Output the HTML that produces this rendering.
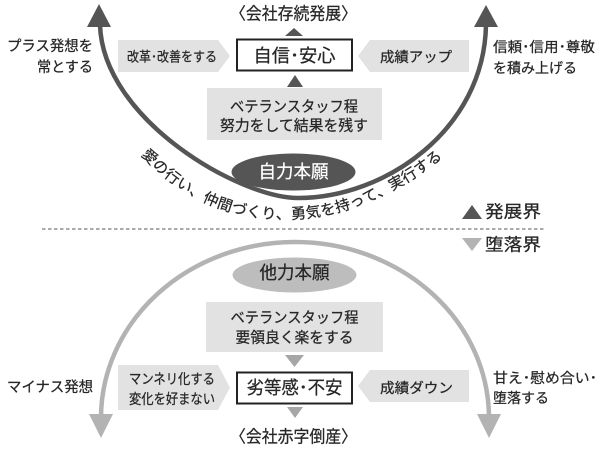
<!DOCTYPE html>
<html><head><meta charset="utf-8">
<style>
html,body{margin:0;padding:0;background:#fff;}
svg{display:block;}
text{font-family:"Liberation Sans","Noto Sans CJK JP",sans-serif;fill:#262626;stroke:#262626;stroke-width:0.25;}
</style></head>
<body>
<svg width="600" height="450" viewBox="0 0 600 450" xmlns="http://www.w3.org/2000/svg">
<rect width="600" height="450" fill="#fff"/>

<!-- upper U arrow -->
<path d="M100 25 C103 120 240 198 298 198 C385 198 484 130 486 25" stroke="#555" stroke-width="4.5" fill="none"/>
<polygon points="99,4 87,27 111,27" fill="#555"/>
<polygon points="486,5 474,27 498,27" fill="#555"/>

<!-- lower arch -->
<path d="M101 418 A194 176 0 0 1 489 418" stroke="#b3b3b3" stroke-width="4.5" fill="none"/>
<polygon points="101,438 89,414 113,414" fill="#b3b3b3"/>
<polygon points="489,438 477,414 501,414" fill="#b3b3b3"/>

<!-- top title -->
<text x="293.5" y="14" text-anchor="middle" dominant-baseline="central" font-size="17" textLength="127" lengthAdjust="spacingAndGlyphs">〈会社存続発展〉</text>
<polygon points="294,28 285,36 303,36" fill="#555"/>

<!-- upper pentagons -->
<polygon points="118,40 218,40 230,56 218,72 118,72" fill="#e2e2e2"/>
<text x="172" y="57" text-anchor="middle" dominant-baseline="central" font-size="13.5" textLength="90" lengthAdjust="spacingAndGlyphs">改革･改善をする</text>
<polygon points="358,56 370,40 469,40 469,72 370,72" fill="#e2e2e2"/>
<text x="416" y="57" text-anchor="middle" dominant-baseline="central" font-size="14" textLength="72" lengthAdjust="spacingAndGlyphs">成績アップ</text>

<!-- upper box -->
<rect x="237" y="39.5" width="115" height="31" fill="#fff" stroke="#222" stroke-width="2"/>
<text x="294.5" y="56" text-anchor="middle" dominant-baseline="central" font-size="18" textLength="82" lengthAdjust="spacingAndGlyphs">自信･安心</text>

<polygon points="295,75 287,87 303,87" fill="#555"/>
<rect x="207" y="88" width="175" height="52" fill="#e2e2e2"/>
<text x="294" y="107" text-anchor="middle" dominant-baseline="central" font-size="15" textLength="128" lengthAdjust="spacingAndGlyphs">ベテランスタッフ程</text>
<text x="294" y="126" text-anchor="middle" dominant-baseline="central" font-size="15" textLength="148" lengthAdjust="spacingAndGlyphs">努力をして結果を残す</text>

<ellipse cx="293.5" cy="172" rx="62" ry="18.5" fill="#555"/>
<text x="293.5" y="172" text-anchor="middle" dominant-baseline="central" font-size="18" textLength="70" lengthAdjust="spacingAndGlyphs" style="fill:#fff;stroke:#fff">自力本願</text>

<!-- side texts upper -->
<text x="93" y="47" text-anchor="end" dominant-baseline="central" font-size="14.5" textLength="86" lengthAdjust="spacingAndGlyphs">プラス発想を</text>
<text x="93" y="68" text-anchor="end" dominant-baseline="central" font-size="14.5" textLength="56" lengthAdjust="spacingAndGlyphs">常とする</text>
<text x="493" y="47" dominant-baseline="central" font-size="14" textLength="102" lengthAdjust="spacingAndGlyphs">信頼･信用･尊敬</text>
<text x="493" y="68" dominant-baseline="central" font-size="14" textLength="84" lengthAdjust="spacingAndGlyphs">を積み上げる</text>

<!-- curved text -->
<path id="tp" d="M143 150 C190 200 240 216 292 214 C350 212 400 185 442 152" fill="none"/>
<text font-size="15" dominant-baseline="central"><textPath href="#tp" startOffset="2" textLength="328" lengthAdjust="spacingAndGlyphs">愛の行い、仲間づくり、勇気を持って、実行する</textPath></text>

<!-- divider -->
<line x1="42" y1="229" x2="546" y2="229" stroke="#555" stroke-width="1" stroke-dasharray="3.5,2.5"/>
<polygon points="472,205 462,219 482,219" fill="#555"/>
<text x="485" y="212" dominant-baseline="central" font-size="17" textLength="56" lengthAdjust="spacingAndGlyphs">発展界</text>
<polygon points="462,238 482,238 472,251" fill="#b3b3b3"/>
<text x="485" y="245" dominant-baseline="central" font-size="17" textLength="56" lengthAdjust="spacingAndGlyphs">堕落界</text>

<!-- lower section -->
<ellipse cx="294.5" cy="275" rx="62" ry="17.5" fill="#bdbdbd"/>
<text x="294.5" y="273" text-anchor="middle" dominant-baseline="central" font-size="18" textLength="70" lengthAdjust="spacingAndGlyphs">他力本願</text>

<rect x="206" y="302" width="177" height="50" fill="#e2e2e2"/>
<text x="294.5" y="318" text-anchor="middle" dominant-baseline="central" font-size="15" textLength="128" lengthAdjust="spacingAndGlyphs">ベテランスタッフ程</text>
<text x="294.5" y="338" text-anchor="middle" dominant-baseline="central" font-size="15" textLength="118" lengthAdjust="spacingAndGlyphs">要領良く楽をする</text>

<polygon points="285,355 304,355 294.5,367" fill="#a6a6a6"/>

<polygon points="118,365 218,365 230,387.5 218,410 118,410" fill="#e2e2e2"/>
<text x="172" y="379" text-anchor="middle" dominant-baseline="central" font-size="14" textLength="86" lengthAdjust="spacingAndGlyphs">マンネリ化する</text>
<text x="172" y="399" text-anchor="middle" dominant-baseline="central" font-size="14" textLength="86" lengthAdjust="spacingAndGlyphs">変化を好まない</text>

<polygon points="358,386 370,370 469,370 469,402 370,402" fill="#e2e2e2"/>
<text x="416.5" y="388" text-anchor="middle" dominant-baseline="central" font-size="14" textLength="73" lengthAdjust="spacingAndGlyphs">成績ダウン</text>

<rect x="237" y="372.5" width="115" height="31" fill="#fff" stroke="#222" stroke-width="2"/>
<text x="294.5" y="388" text-anchor="middle" dominant-baseline="central" font-size="18" textLength="96" lengthAdjust="spacingAndGlyphs">劣等感･不安</text>

<polygon points="287,407 303,407 295,418" fill="#a6a6a6"/>
<text x="293.5" y="437" text-anchor="middle" dominant-baseline="central" font-size="17" textLength="127" lengthAdjust="spacingAndGlyphs">〈会社赤字倒産〉</text>

<text x="93" y="388" text-anchor="end" dominant-baseline="central" font-size="14.5" textLength="86" lengthAdjust="spacingAndGlyphs">マイナス発想</text>
<text x="493" y="378" dominant-baseline="central" font-size="14" textLength="104" lengthAdjust="spacingAndGlyphs">甘え･慰め合い･</text>
<text x="493" y="398" dominant-baseline="central" font-size="14" textLength="56" lengthAdjust="spacingAndGlyphs">堕落する</text>
</svg>
</body></html>
